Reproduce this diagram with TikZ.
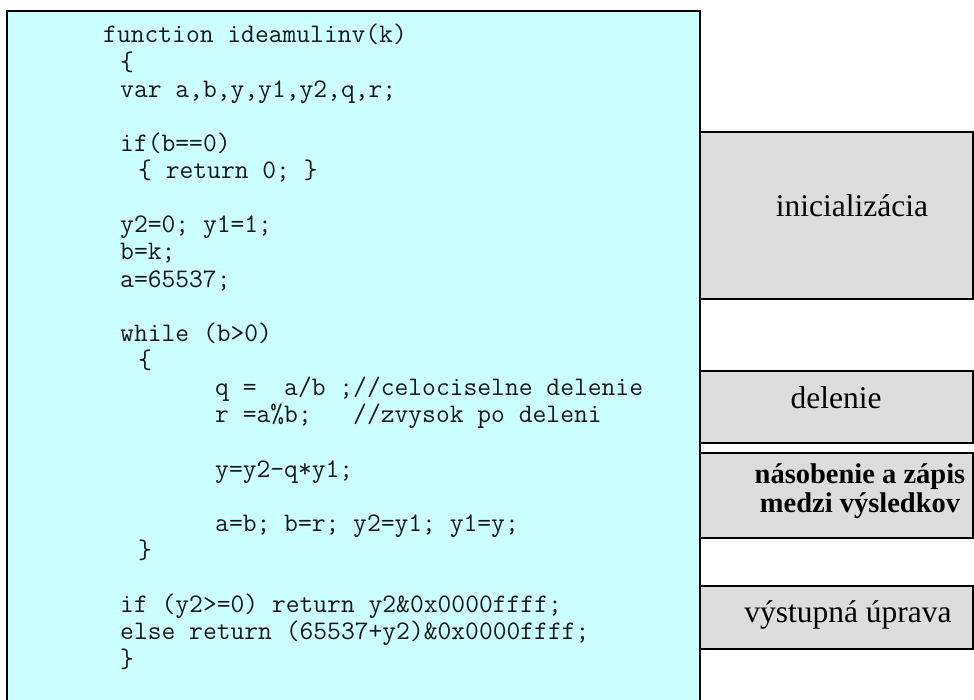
\documentclass[tikz,border=0pt]{standalone}
\usepackage{fontspec}
\setmainfont{Liberation Serif}
\definecolor{codecyan}{HTML}{CCFFFF}
\definecolor{labelgray}{HTML}{DDDDDD}
\begin{document}
\begin{tikzpicture}[x=1pt,y=-1pt,
  codebox/.style={draw=black, line width=2pt, fill=codecyan, inner sep=0pt, outer sep=0pt},
  graybox/.style={draw=black, line width=1.8pt, fill=labelgray, inner sep=0pt, outer sep=0pt, minimum width=273pt},
  codeline/.style={anchor=base west, inner sep=0pt, font=\ttfamily\fontsize{26.8}{27}\selectfont, text=black!90},
  lbl/.style={anchor=base, inner sep=0pt, font=\fontsize{31.5}{33}\selectfont},
  lblbold/.style={align=center, inner sep=0pt, font=\bfseries\fontsize{28.5}{29}\selectfont}]
\path[use as bounding box, clip] (0,0) rectangle (974,700);
\fill[white] (0,0) rectangle (974,700);
% code panel
\node[codebox, minimum width=693pt, minimum height=710pt] (code) at (353.5,366) {};
% section boxes
\node[graybox, minimum height=167pt] (init) at (836.5,215.5) {};
\node[graybox, minimum height=72pt] (div) at (836.5,407) {};
\node[graybox, minimum height=85pt] (mul) at (836.5,495.5) {};
\node[graybox, minimum height=63pt] (out) at (836.5,617.5) {};
% labels
\node[lbl] (tinit) at (852,217) {inicializácia};
\node[lbl] (tdiv) at (836,408) {delenie};
\node[lblbold] (tmul) at (860,491) {násobenie a zápis\\medzi výsledkov};
\node[lbl] (tout) at (848,622) {výstupná úprava};
% code
\node[codeline] (c1) at (103,43) {function ideamulinv(k)};
\node[codeline] (c2) at (120,70.1) {\{};
\node[codeline] (c3) at (120,97.3) {var a,b,y,y1,y2,q,r;};
\node[codeline] (c4) at (120,151.5) {if(b==0)};
\node[codeline] (c5) at (138,178.7) {\{ return 0; \}};
\node[codeline] (c6) at (120,232.9) {y2=0; y1=1;};
\node[codeline] (c7) at (120,260.0) {b=k;};
\node[codeline] (c8) at (120,287.2) {a=65537;};
\node[codeline] (c9) at (120,341.4) {while (b>0)};
\node[codeline] (c10) at (138,368.6) {\{};
\node[codeline] (c11) at (215,395.7) {q =~~a/b ;//celociselne delenie};
\node[codeline] (c12) at (215,422.8) {r =a\%b;~~~//zvysok po deleni};
\node[codeline] (c13) at (215,477.1) {y=y2-q*y1;};
\node[codeline] (c14) at (215,531.3) {a=b; b=r; y2=y1; y1=y;};
\node[codeline] (c15) at (138,558.5) {\}};
\node[codeline] (c16) at (120,612.7) {if (y2>=0) return y2\&0x0000ffff;};
\node[codeline] (c17) at (120,639.9) {else return (65537+y2)\&0x0000ffff;};
\node[codeline] (c18) at (120,667.0) {\}};
\end{tikzpicture}
\end{document}
